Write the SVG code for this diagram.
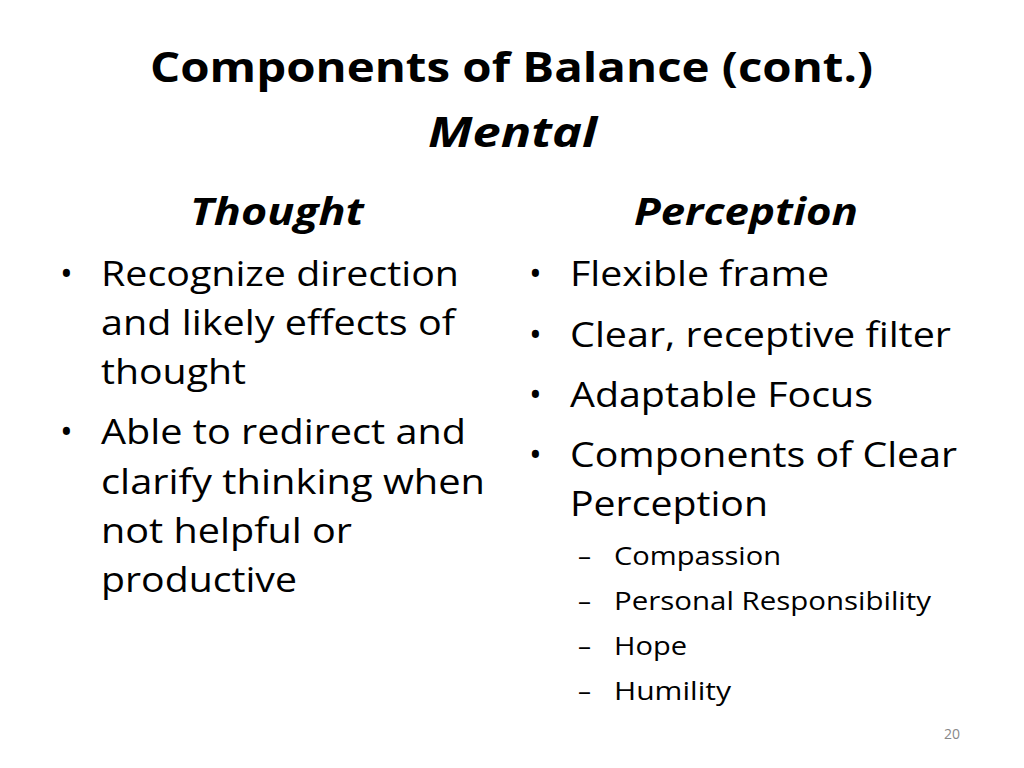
<svg xmlns="http://www.w3.org/2000/svg" width="1024" height="768" viewBox="0 0 1024 768">
<style>
text{font-family:"Open Sans","Liberation Sans",sans-serif;fill:#000}
.h{font-weight:bold;font-size:42px}
.hi{font-weight:bold;font-style:italic;font-size:42px}
.s{font-weight:bold;font-style:italic;font-size:38px}
.b{font-size:34px}
.sb{font-size:26px}
</style>
<rect width="1024" height="768" fill="#fff"/>
<text class="h" x="150" y="82" textLength="723" lengthAdjust="spacingAndGlyphs">Components of Balance (cont.)</text>
<text class="hi" x="428" y="147" textLength="169" lengthAdjust="spacingAndGlyphs">Mental</text>
<text class="s" x="190" y="225" textLength="174" lengthAdjust="spacingAndGlyphs">Thought</text>
<text class="s" x="634" y="225" textLength="224" lengthAdjust="spacingAndGlyphs">Perception</text>
<g class="b">
<text x="60" y="286">•</text><text x="60" y="444">•</text>
<text x="101" y="286" textLength="358" lengthAdjust="spacingAndGlyphs">Recognize direction</text>
<text x="101" y="335" textLength="354" lengthAdjust="spacingAndGlyphs">and likely effects of</text>
<text x="101" y="384" textLength="145" lengthAdjust="spacingAndGlyphs">thought</text>
<text x="101" y="444" textLength="365" lengthAdjust="spacingAndGlyphs">Able to redirect and</text>
<text x="101" y="494" textLength="384" lengthAdjust="spacingAndGlyphs">clarify thinking when</text>
<text x="101" y="543" textLength="251" lengthAdjust="spacingAndGlyphs">not helpful or</text>
<text x="101" y="592" textLength="196" lengthAdjust="spacingAndGlyphs">productive</text>
<text x="529" y="286">•</text><text x="529" y="347">•</text><text x="529" y="407">•</text><text x="529" y="467">•</text>
<text x="570" y="286" textLength="259" lengthAdjust="spacingAndGlyphs">Flexible frame</text>
<text x="570" y="347" textLength="381" lengthAdjust="spacingAndGlyphs">Clear, receptive filter</text>
<text x="570" y="407" textLength="303" lengthAdjust="spacingAndGlyphs">Adaptable Focus</text>
<text x="570" y="467" textLength="387" lengthAdjust="spacingAndGlyphs">Components of Clear</text>
<text x="570" y="516" textLength="198" lengthAdjust="spacingAndGlyphs">Perception</text>
</g>
<g class="sb">
<text x="578" y="565">–</text><text x="578" y="610">–</text><text x="578" y="655">–</text><text x="578" y="700">–</text>
<text x="614" y="565" textLength="167" lengthAdjust="spacingAndGlyphs">Compassion</text>
<text x="614" y="610" textLength="317" lengthAdjust="spacingAndGlyphs">Personal Responsibility</text>
<text x="614" y="655" textLength="73" lengthAdjust="spacingAndGlyphs">Hope</text>
<text x="614" y="700" textLength="117" lengthAdjust="spacingAndGlyphs">Humility</text>
</g>
<text x="944" y="739" style="font-size:14px;fill:#888">20</text>
</svg>
